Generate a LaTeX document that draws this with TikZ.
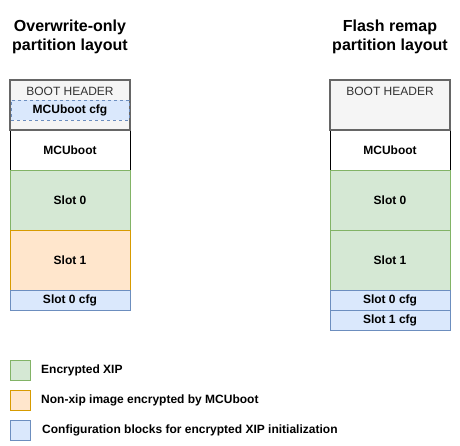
\documentclass[tikz,border=0pt]{standalone}
\usepackage{fontspec}
\setmainfont{Liberation Sans}
\usetikzlibrary{positioning}

\definecolor{hdrfill}{HTML}{F5F5F5}
\definecolor{hdrline}{HTML}{666666}
\definecolor{hdrtext}{HTML}{333333}
\definecolor{xipfill}{HTML}{D5E8D4}
\definecolor{xipline}{HTML}{82B366}
\definecolor{encfill}{HTML}{FFE6CC}
\definecolor{encline}{HTML}{D79B00}
\definecolor{cfgfill}{HTML}{DAE8FC}
\definecolor{cfgline}{HTML}{6C8EBF}

\begin{document}
\begin{tikzpicture}[
        x=1pt, y=-1pt,
        block/.style={draw, line width=1pt, outer sep=0pt, inner sep=0pt,
            minimum width=120pt, font=\fontsize{12}{14}\selectfont\bfseries},
        bootblock/.style={block, fill=white, minimum height=40pt},
        hdrblock/.style={block, draw=hdrline, fill=hdrfill, line width=2pt, minimum height=50pt},
        hdrlabel/.style={font=\fontsize{12}{14}\selectfont, text=hdrtext, inner sep=0pt},
        xipblock/.style={block, draw=xipline, fill=xipfill, minimum height=60pt},
        encblock/.style={block, draw=encline, fill=encfill, minimum height=60pt},
        cfgblock/.style={block, draw=cfgline, fill=cfgfill, minimum height=20pt},
        title/.style={font=\fontsize{16}{19}\selectfont\bfseries, align=center},
        key/.style={draw, line width=1pt, minimum size=20pt, inner sep=0pt, outer sep=0pt},
        keytext/.style={font=\fontsize{12}{14}\selectfont\bfseries, inner sep=0pt, anchor=west}
    ]
    \useasboundingbox (0,0) rectangle (460,445);

    % Overwrite-only layout
    \node[title] (titleA) at (70,37) {Overwrite-only\\partition layout};
    \node[bootblock] (bootA) at (70,150) {MCUboot};
    \node[hdrblock, above=0pt of bootA] (hdrA) {};
    \node[hdrlabel, below=7pt of hdrA.north] (hdrtextA) {BOOT HEADER};
    \node[cfgblock, dashed, minimum width=118pt] (mcucfgA) at (70,110) {MCUboot cfg};
    \node[xipblock, below=0pt of bootA] (slot0A) {Slot 0};
    \node[encblock, below=0pt of slot0A] (slot1A) {Slot 1};
    \node[cfgblock, below=0pt of slot1A] (cfg0A) {Slot 0 cfg};

    % Flash remap layout
    \node[title] (titleB) at (390,37) {Flash remap\\partition layout};
    \node[bootblock] (bootB) at (390,150) {MCUboot};
    \node[hdrblock, above=0pt of bootB] (hdrB) {};
    \node[hdrlabel, below=7pt of hdrB.north] (hdrtextB) {BOOT HEADER};
    \node[xipblock, below=0pt of bootB] (slot0B) {Slot 0};
    \node[xipblock, below=0pt of slot0B] (slot1B) {Slot 1};
    \node[cfgblock, below=0pt of slot1B] (cfg0B) {Slot 0 cfg};
    \node[cfgblock, below=0pt of cfg0B] (cfg1B) {Slot 1 cfg};

    % Legend
    \node[key, draw=xipline, fill=xipfill] (keyxip) at (20,370) {};
    \node[key, draw=encline, fill=encfill] (keyenc) at (20,400) {};
    \node[key, draw=cfgline, fill=cfgfill] (keycfg) at (20,430) {};
    \node[keytext, right=11pt of keyxip] (txtxip) {Encrypted XIP};
    \node[keytext, right=11pt of keyenc] (txtenc) {Non-xip image encrypted by MCUboot};
    \node[keytext, right=12pt of keycfg] (txtcfg) {Configuration blocks for encrypted XIP initialization};
\end{tikzpicture}
\end{document}
